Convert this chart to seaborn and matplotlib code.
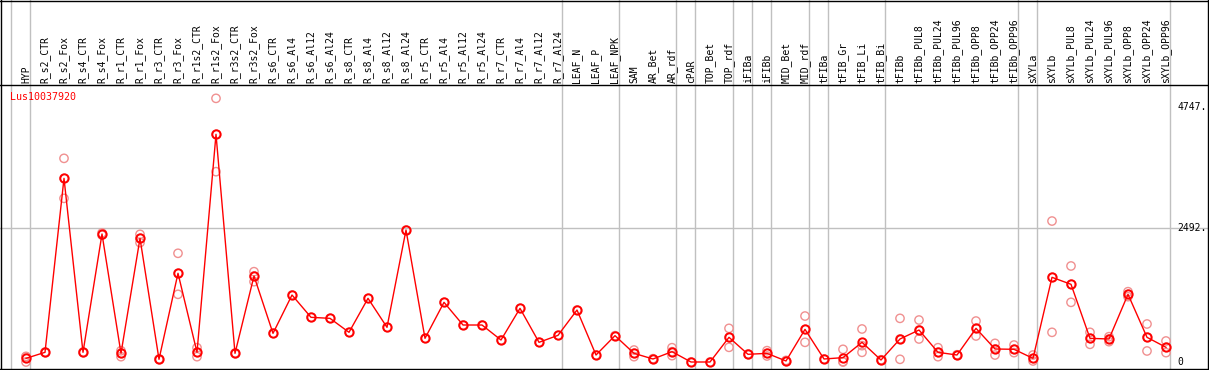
import numpy as np
import pandas as pd
import seaborn as sns
import matplotlib.pyplot as plt

gene = 'Lus10037920'

samples = ['HYP', 'R_s2_CTR', 'R_s2_Fox', 'R_s4_CTR', 'R_s4_Fox', 'R_r1_CTR', 'R_r1_Fox',
           'R_r3_CTR', 'R_r3_Fox', 'R_r1s2_CTR', 'R_r1s2_Fox', 'R_r3s2_CTR', 'R_r3s2_Fox',
           'R_s6_CTR', 'R_s6_Al4', 'R_s6_Al12', 'R_s6_Al24', 'R_s8_CTR', 'R_s8_Al4',
           'R_s8_Al12', 'R_s8_Al24', 'R_r5_CTR', 'R_r5_Al4', 'R_r5_Al12', 'R_r5_Al24',
           'R_r7_CTR', 'R_r7_Al4', 'R_r7_Al12', 'R_r7_Al24', 'LEAF_N', 'LEAF_P', 'LEAF_NPK',
           'SAM', 'AR_Bet', 'AR_rdf', 'cPAR', 'TOP_Bet', 'TOP_rdf', 'iFIBa', 'iFIBb',
           'MID_Bet', 'MID_rdf', 'tFIBa', 'tFIB_Gr', 'tFIB_Li', 'tFIB_Bi', 'tFIBb',
           'tFIBb_PUL8', 'tFIBb_PUL24', 'tFIBb_PUL96', 'tFIBb_OPP8', 'tFIBb_OPP24',
           'tFIBb_OPP96', 'sXYLa', 'sXYLb', 'sXYLb_PUL8', 'sXYLb_PUL24', 'sXYLb_PUL96',
           'sXYLb_OPP8', 'sXYLb_OPP24', 'sXYLb_OPP96']

means = [68, 180, 3416, 180, 2381, 161, 2300, 50, 1650, 180, 4235, 161, 1600,
         533, 1246, 831, 812, 552, 1184, 645, 2455, 440, 1110, 688, 688,
         409, 998, 366, 496, 967, 130, 490,
         161, 56, 192, 0, 0, 459, 143, 161, 19, 607,
         56, 81, 366, 37, 428, 595, 180, 130, 626, 242, 236,
         68, 1575, 1445, 440, 428, 1259, 459, 273]

# replicate values per sample
reps = [[0, 95, 105], [175, 185], [3044, 3416, 3788], [175, 185], [2360, 2400],
        [99, 161, 210], [2220, 2300, 2375], [45, 55], [1259, 1650, 2022],
        [99, 180, 266], [3540, 4235, 4904], [155, 167], [1494, 1600, 1680],
        [533], [1246], [831], [812], [552], [1184], [645], [2455], [440], [1110],
        [688], [688], [409], [998], [366], [496], [967], [130], [490],
        [99, 161, 223], [50, 62], [118, 192, 266], [0], [0], [273, 459, 626],
        [138, 148], [112, 161, 211], [10, 30], [366, 607, 855],
        [56], [0, 7, 236], [180, 304, 614], [32, 42], [50, 428, 812],
        [428, 595, 781], [99, 180, 266], [125, 135], [484, 626, 762],
        [130, 242, 347], [174, 236, 316], [19, 68, 130], [552, 1575, 2622],
        [1110, 1445, 1786], [329, 440, 552], [378, 428, 471], [1215, 1259, 1308],
        [205, 459, 707], [174, 273, 391]]

# group separators (after these sample indices)
group_ends = [-1, 0, 28, 31, 34, 35, 37, 38, 39, 41, 42, 45, 52, 53, 60]
scale_ticks = [4747, 2492, 0]

df = pd.DataFrame({'x': np.arange(len(samples)), 'expr': means})
rep_df = pd.DataFrame([(i, v) for i, r in enumerate(reps) for v in r], columns=['x', 'expr'])

plt.rcParams['font.family'] = ['DejaVu Sans Mono']

fig = plt.figure(figsize=(12.09, 3.70), dpi=100)
ax = fig.add_axes([0, 0, 1, 1])

# pixel -> data helpers
px = lambda p: (p - 26) / 19
py = lambda p: (362 - p) * 18.6

ax.set_xlim(px(0), px(1209))
ax.set_ylim(py(370), py(0))
ax.axis('off')

grey = '#c0c0c0'
for g in group_ends:
    ax.axvline(g + 0.21, color=grey, lw=1, zorder=1)
ax.axhline(2492, color=grey, lw=1, zorder=1)

# frame and header separator
for v in [py(0.5), py(85), py(369)]:
    ax.axhline(v, color='black', lw=1, zorder=2)
for u in [px(1.5), px(1207.5)]:
    ax.axvline(u, color='black', lw=1, zorder=2)

sns.scatterplot(data=rep_df, x='x', y='expr', ax=ax, marker='o', s=36,
                facecolor='none', edgecolor='#f09090', linewidth=1, zorder=3, legend=False)
sns.lineplot(data=df, x='x', y='expr', ax=ax, color='red', lw=1, marker='o', ms=6,
             mfc='none', mec='red', mew=1.4, zorder=4, legend=False)

for i, s in enumerate(samples):
    ax.text(i, py(83), s, rotation=90, ha='center', va='bottom', fontsize=7)

ax.text(px(10), py(97), gene, color='red', ha='left', va='center', fontsize=7.2)

for t in scale_ticks:
    ax.text(px(1177), t, f'{t}.' if t else '0', ha='left', va='center', fontsize=7)

ax.set_xlabel('')
ax.set_ylabel('')
fig.savefig('out.png', dpi=100)
